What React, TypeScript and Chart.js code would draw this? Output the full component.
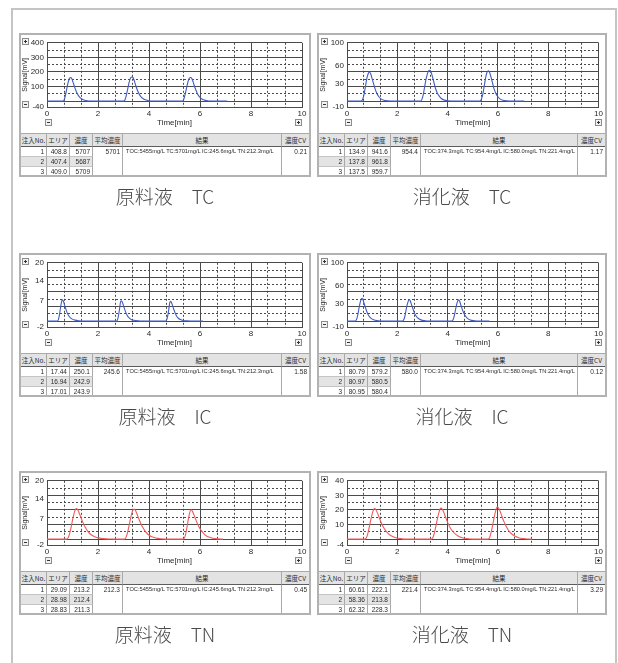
import React, { useEffect, useRef } from 'react';
import { Chart, registerables } from 'chart.js';

Chart.register(...registerables);

// ---------- DATA ----------
const xTickLabels = ['0', '2', '4', '6', '8', '10'];

// [time(min), signal(mV)]
const rawTcSignal: [number, number][] = [
  [0, 0], [0.63, 0], [0.68, 12], [0.73, 45], [0.78, 90], [0.84, 135], [0.89, 158], [0.93, 162], [0.97, 155],
  [1.02, 130], [1.08, 98], [1.14, 70], [1.2, 48], [1.27, 30], [1.35, 17], [1.45, 8], [1.58, 3], [1.75, 1], [1.95, 0],
  [3.01, 0], [3.06, 10], [3.11, 40], [3.17, 88], [3.23, 135], [3.28, 160], [3.34, 166], [3.38, 160], [3.43, 136],
  [3.49, 102], [3.55, 73], [3.61, 50], [3.68, 31], [3.76, 18], [3.86, 9], [3.99, 3], [4.15, 1], [4.35, 0],
  [5.31, 0], [5.36, 11], [5.41, 42], [5.47, 88], [5.53, 134], [5.58, 157], [5.64, 162], [5.68, 156], [5.73, 132],
  [5.79, 99], [5.85, 71], [5.91, 48], [5.98, 30], [6.06, 17], [6.16, 8], [6.29, 3], [6.45, 1], [6.65, 0], [7.07, 0],
];
const digTcSignal: [number, number][] = [
  [0, 0], [0.56, 0], [0.62, 3], [0.68, 12], [0.74, 27], [0.8, 41], [0.85, 48], [0.89, 50], [0.94, 47], [0.99, 40],
  [1.05, 31], [1.11, 22], [1.18, 14], [1.26, 8], [1.35, 4], [1.47, 1.5], [1.62, 0.5], [1.8, 0],
  [2.92, 0], [2.98, 3], [3.04, 13], [3.1, 28], [3.17, 43], [3.23, 51], [3.29, 53], [3.34, 50], [3.39, 43],
  [3.45, 33], [3.51, 23], [3.58, 15], [3.66, 9], [3.75, 4.5], [3.87, 1.8], [4.02, 0.6], [4.2, 0],
  [5.28, 0], [5.34, 3], [5.4, 12], [5.46, 27], [5.52, 42], [5.57, 50], [5.62, 52], [5.67, 49], [5.72, 42],
  [5.78, 32], [5.84, 22], [5.91, 14], [5.99, 8], [6.08, 4], [6.2, 1.5], [6.35, 0.5], [6.55, 0], [7.05, 0],
];
const rawIcSignal: [number, number][] = [
  [0, 0], [0.41, 0], [0.45, 0.6], [0.49, 2.3], [0.53, 4.6], [0.57, 6.6], [0.6, 7.3], [0.64, 6.9], [0.68, 5.8],
  [0.73, 4.4], [0.78, 3.1], [0.84, 2.0], [0.91, 1.2], [0.99, 0.7], [1.1, 0.35], [1.25, 0.15], [1.45, 0.05],
  [2.73, 0], [2.77, 0.6], [2.81, 2.2], [2.85, 4.5], [2.88, 6.4], [2.91, 7.0], [2.95, 6.6], [2.99, 5.6], [3.04, 4.2],
  [3.09, 3.0], [3.15, 1.9], [3.22, 1.1], [3.3, 0.6], [3.41, 0.3], [3.56, 0.1], [3.75, 0],
  [4.66, 0], [4.7, 0.6], [4.74, 2.1], [4.78, 4.3], [4.81, 6.2], [4.84, 6.8], [4.88, 6.4], [4.92, 5.4], [4.97, 4.1],
  [5.02, 2.9], [5.08, 1.8], [5.15, 1.0], [5.23, 0.55], [5.34, 0.25], [5.49, 0.1], [5.7, 0], [6.11, 0],
];
const digIcSignal: [number, number][] = [
  [0, 0], [0.33, 0], [0.38, 3], [0.43, 11], [0.48, 23], [0.53, 33], [0.57, 38], [0.6, 39], [0.64, 36], [0.69, 29],
  [0.75, 21], [0.81, 14], [0.88, 8.5], [0.96, 4.8], [1.06, 2.4], [1.18, 1], [1.35, 0.3], [1.55, 0],
  [2.21, 0], [2.26, 3], [2.31, 10], [2.36, 22], [2.41, 31], [2.45, 36], [2.48, 37], [2.52, 34], [2.57, 27.5],
  [2.63, 20], [2.69, 13], [2.76, 8], [2.84, 4.5], [2.94, 2.2], [3.06, 0.9], [3.22, 0.3], [3.42, 0],
  [4.17, 0], [4.22, 3], [4.27, 10], [4.32, 21], [4.37, 30.5], [4.41, 35.5], [4.44, 36.5], [4.48, 34], [4.53, 27],
  [4.59, 19.5], [4.65, 13], [4.72, 8], [4.8, 4.4], [4.9, 2.1], [5.02, 0.9], [5.18, 0.3], [5.38, 0], [5.66, 0],
];
const rawTnSignal: [number, number][] = [
  [0, 0], [0.77, 0], [0.83, 0.5], [0.89, 2.0], [0.95, 4.3], [1.01, 6.9], [1.07, 9.1], [1.12, 10.3], [1.16, 10.5],
  [1.21, 10.0], [1.27, 8.8], [1.34, 7.2], [1.42, 5.5], [1.51, 3.9], [1.61, 2.6], [1.72, 1.6], [1.85, 0.9],
  [2.0, 0.45], [2.2, 0.2], [2.45, 0.05],
  [3.03, 0], [3.09, 0.5], [3.15, 2.0], [3.21, 4.3], [3.27, 6.9], [3.33, 9.0], [3.38, 10.1], [3.42, 10.3],
  [3.47, 9.8], [3.53, 8.6], [3.6, 7.0], [3.68, 5.3], [3.77, 3.8], [3.87, 2.5], [3.98, 1.5], [4.11, 0.8],
  [4.26, 0.4], [4.45, 0.15], [4.7, 0],
  [5.35, 0], [5.4, 0.6], [5.45, 2.2], [5.5, 4.6], [5.55, 7.2], [5.6, 9.2], [5.65, 10.1], [5.7, 9.6], [5.76, 8.4],
  [5.83, 6.8], [5.91, 5.1], [6.0, 3.6], [6.1, 2.4], [6.21, 1.4], [6.34, 0.7], [6.5, 0.3], [6.68, 0.1], [6.9, 0],
];
const digTnSignal: [number, number][] = [
  [0, 0], [0.71, 0], [0.77, 1], [0.83, 4], [0.89, 8.6], [0.95, 13.5], [1.01, 17.8], [1.06, 20.3], [1.1, 21],
  [1.15, 20.2], [1.21, 18], [1.28, 14.8], [1.36, 11.3], [1.45, 8.1], [1.55, 5.5], [1.66, 3.5], [1.79, 2.0],
  [1.94, 1.0], [2.12, 0.4], [2.35, 0],
  [3.35, 0], [3.41, 1], [3.47, 4], [3.53, 8.6], [3.59, 13.6], [3.65, 18], [3.7, 20.6], [3.74, 21.3], [3.79, 20.5],
  [3.85, 18.3], [3.92, 15], [4.0, 11.5], [4.09, 8.2], [4.19, 5.6], [4.3, 3.6], [4.43, 2.0], [4.58, 1.0],
  [4.76, 0.4], [5.0, 0],
  [5.61, 0], [5.67, 1.2], [5.73, 4.6], [5.79, 9.6], [5.85, 15], [5.91, 19.4], [5.95, 21.5], [5.98, 22],
  [6.03, 21.2], [6.09, 19], [6.16, 15.6], [6.24, 12], [6.33, 8.6], [6.43, 5.8], [6.54, 3.7], [6.67, 2.1],
  [6.82, 1.0], [7.0, 0.4], [7.2, 0.1], [7.35, 0],
];

// y axis: [max, labelled values..., min]
const rawTcYLabels = [400, 300, 200, 100, -40];
const digTcYLabels = [100, 60, 30, -10];
const rawIcYLabels = [20, 14, 7, -2];
const digIcYLabels = [100, 60, 30, -10];
const rawTnYLabels = [20, 14, 7, -2];
const digTnYLabels = [40, 30, 20, 10, -4];

const tableHeaders = ['注入No.', 'エリア', '濃度', '平均濃度', '結果', '濃度CV'];

const rawTcRows = [['1', '408.8', '5707'], ['2', '407.4', '5687'], ['3', '409.0', '5709']];
const digTcRows = [['1', '134.9', '941.6'], ['2', '137.8', '961.8'], ['3', '137.5', '959.7']];
const rawIcRows = [['1', '17.44', '250.1'], ['2', '16.94', '242.9'], ['3', '17.01', '243.9']];
const digIcRows = [['1', '80.79', '579.2'], ['2', '80.97', '580.5'], ['3', '80.95', '580.4']];
const rawTnRows = [['1', '29.09', '213.2'], ['2', '28.98', '212.4'], ['3', '28.83', '211.3']];
const digTnRows = [['1', '60.61', '222.1'], ['2', '58.36', '213.8'], ['3', '62.32', '228.3']];

const rawAverages = { tc: '5701', ic: '245.6', tn: '212.3' };
const digAverages = { tc: '954.4', ic: '580.0', tn: '221.4' };
const rawCv = { tc: '0.21', ic: '1.58', tn: '0.45' };
const digCv = { tc: '1.17', ic: '0.12', tn: '3.29' };
const rawResult = 'TOC:5455mg/L TC:5701mg/L IC:245.6mg/L TN:212.3mg/L';
const digResult = 'TOC:374.3mg/L TC:954.4mg/L IC:580.0mg/L TN:221.4mg/L';

const captions = ['原料液\u3000TC', '消化液\u3000TC', '原料液\u3000IC', '消化液\u3000IC', '原料液\u3000TN', '消化液\u3000TN'];

// ---------- STYLE ----------
const BLUE = '#3f5cc4';
const RED = '#f05a5a';
const GRID = '#4a4a4a';
const TXT = '#2a2a2a';
const FONT = "'Liberation Sans', Arial, sans-serif";
const CJK = "'Noto Sans CJK JP', 'Noto Sans', sans-serif";

const near = (a: number, b: number) => Math.abs(a - b) < 1e-7;

function Plot(props: {
  points: [number, number][];
  color: string;
  yLabels: number[];
  width: number;
  height: number;
  yWidth: number;
  padRight: number;
}) {
  const ref = useRef<HTMLCanvasElement>(null);
  const { points, color, yLabels, width, height, yWidth, padRight } = props;
  useEffect(() => {
    const yMax = yLabels[0];
    const yMin = yLabels[yLabels.length - 1];
    const gridVals = Array.from({ length: 9 }, (_, i) => (yMax * i) / 8);
    const yVals = [...gridVals];
    for (const v of yLabels) if (!yVals.some((a) => near(a, v))) yVals.push(v);
    yVals.sort((a, b) => a - b);
    const gridIdx = (v: number) => gridVals.findIndex((g) => near(g, v));
    const xVals = Array.from({ length: 16 }, (_, i) => (i * 2) / 3);
    const isMajorX = (v: number) => near(v / 2, Math.round(v / 2));

    const chart = new Chart(ref.current!, {
      type: 'line',
      data: {
        datasets: [
          {
            data: points.map(([x, y]) => ({ x, y })),
            borderColor: color,
            borderWidth: 1.1,
            pointRadius: 0,
            cubicInterpolationMode: 'monotone',
            fill: false,
          },
        ],
      },
      options: {
        animation: false,
        responsive: false,
        events: [],
        layout: { padding: { top: 4, right: padRight, left: 0, bottom: 0 } },
        plugins: { legend: { display: false }, tooltip: { enabled: false } },
        scales: {
          x: {
            type: 'linear',
            min: 0,
            max: 10,
            afterBuildTicks: (s: any) => {
              s.ticks = xVals.map((v) => ({ value: v }));
            },
            afterFit: (s: any) => {
              s.height = 26;
            },
            ticks: {
              autoSkip: false,
              maxRotation: 0,
              padding: 2,
              color: TXT,
              font: { family: FONT, size: 8 },
              callback: (v: any) => (isMajorX(Number(v)) ? xTickLabels[Math.round(Number(v) / 2)] : ''),
            },
            grid: { drawTicks: false, color: GRID, lineWidth: 1 },
            border: {
              display: true,
              color: GRID,
              dash: (ctx: any) => (ctx.tick && !isMajorX(ctx.tick.value) ? [2, 2] : []),
            },
            title: {
              display: true,
              text: 'Time[min]',
              color: TXT,
              font: { family: FONT, size: 8 },
              padding: { top: 0, bottom: 5 },
            },
          },
          y: {
            type: 'linear',
            min: yMin,
            max: yMax,
            afterBuildTicks: (s: any) => {
              s.ticks = yVals.map((v) => ({ value: v }));
            },
            afterFit: (s: any) => {
              s.width = yWidth;
            },
            ticks: {
              autoSkip: false,
              padding: 3,
              color: TXT,
              font: { family: FONT, size: 8 },
              callback: (v: any) => {
                const l = yLabels.find((y) => near(y, Number(v)));
                return l === undefined ? '' : String(l);
              },
            },
            grid: {
              drawTicks: false,
              lineWidth: 1,
              color: (ctx: any) => {
                if (!ctx.tick) return GRID;
                const v = ctx.tick.value;
                return gridIdx(v) >= 0 || near(v, yMin) ? GRID : 'rgba(0,0,0,0)';
              },
            },
            border: {
              display: true,
              color: GRID,
              dash: (ctx: any) => {
                if (!ctx.tick) return [];
                const i = gridIdx(ctx.tick.value);
                return i >= 0 && i % 2 === 1 ? [2, 2] : [];
              },
            },
            title: {
              display: true,
              text: 'Signal[mV]',
              color: TXT,
              font: { family: FONT, size: 7 },
              padding: { top: 0, bottom: 0 },
            },
          },
        },
      },
    } as any);
    return () => chart.destroy();
  }, [points, color, yLabels, width, height, yWidth, padRight]);
  return (
    <canvas
      ref={ref}
      width={width}
      height={height}
      style={{ position: 'absolute', left: 0, top: 0, width, height }}
    />
  );
}

function ZoomIcon({ x, y, plus }: { x: number; y: number; plus: boolean }) {
  return (
    <div
      style={{
        position: 'absolute',
        left: x,
        top: y,
        width: 7,
        height: 7,
        boxSizing: 'border-box',
        border: '1px solid #8c8c8c',
        background: '#f2f2f2',
      }}
    >
      <div style={{ position: 'absolute', left: 1, top: 2, width: 3, height: 1, background: '#333' }} />
      {plus && <div style={{ position: 'absolute', left: 2, top: 1, width: 1, height: 3, background: '#333' }} />}
    </div>
  );
}

function ResultTable({
  width,
  rows,
  avg,
  result,
  cv,
}: {
  width: number;
  rows: string[][];
  avg: string;
  result: string;
  cv: string;
}) {
  const bounds = [0, 26, 49, 72, 102, width - 27, width];
  const headH = 14;
  const rowH = [10, 10, 8];
  const rowTop = [headH, headH + 10, headH + 20];
  const bodyH = 28;
  const cellBase: React.CSSProperties = {
    position: 'absolute',
    boxSizing: 'border-box',
    overflow: 'hidden',
    whiteSpace: 'nowrap',
    color: TXT,
  };
  return (
    <div style={{ position: 'absolute', left: 0, top: 98, width, height: headH + bodyH }}>
      {tableHeaders.map((h, i) => (
        <div
          key={h}
          style={{
            ...cellBase,
            left: bounds[i],
            top: 0,
            width: bounds[i + 1] - bounds[i],
            height: headH,
            background: '#e3e3e3',
            borderTop: '1px solid #a9a9a9',
            borderRight: i < 5 ? '1px solid #a9a9a9' : 'none',
            borderBottom: '1px solid #5c5c5c',
            fontFamily: CJK,
            fontSize: 6.5,
            lineHeight: '12px',
            textAlign: 'center',
          }}
        >
          {h}
        </div>
      ))}
      {rows.map((r, ri) =>
        r.map((c, ci) => (
          <div
            key={ri + '-' + ci}
            style={{
              ...cellBase,
              left: bounds[ci],
              top: rowTop[ri],
              width: bounds[ci + 1] - bounds[ci],
              height: rowH[ri],
              background: ri === 1 ? '#e4e4e4' : '#ffffff',
              borderRight: '1px solid #a9a9a9',
              borderBottom: ri < 2 ? '1px solid #c4c4c4' : 'none',
              fontFamily: FONT,
              fontSize: 6.5,
              lineHeight: '9px',
              textAlign: 'right',
              paddingRight: 2,
            }}
          >
            {c}
          </div>
        )),
      )}
      {[avg, result, cv].map((t, k) => {
        const ci = k + 3;
        return (
          <div
            key={'m' + k}
            style={{
              ...cellBase,
              left: bounds[ci],
              top: headH,
              width: bounds[ci + 1] - bounds[ci],
              height: bodyH,
              background: '#ffffff',
              borderRight: ci < 5 ? '1px solid #a9a9a9' : 'none',
              fontFamily: FONT,
              fontSize: k === 1 ? 6 : 6.5,
              lineHeight: '9px',
              textAlign: k === 1 ? 'left' : 'right',
              paddingRight: 2,
              paddingLeft: k === 1 ? 3 : 0,
            }}
          >
            {k === 1 ? (
              <span style={{ display: 'inline-block', transform: 'scaleX(0.95)', transformOrigin: 'left center' }}>
                {t}
              </span>
            ) : (
              t
            )}
          </div>
        );
      })}
    </div>
  );
}

function Panel(props: {
  x: number;
  y: number;
  w: number;
  right: boolean;
  points: [number, number][];
  color: string;
  yLabels: number[];
  rows: string[][];
  avg: string;
  result: string;
  cv: string;
  caption: string;
}) {
  const { x, y, w, right } = props;
  const innerW = w - 4;
  const yWidth = right ? 28 : 26;
  const padRight = right ? 3 : 7;
  const plotLeft = yWidth;
  const plotRight = innerW - padRight;
  return (
    <>
      <div
        style={{
          position: 'absolute',
          left: x,
          top: y,
          width: w,
          height: 144,
          boxSizing: 'border-box',
          border: '2px solid #b2b2b2',
          background: '#fff',
        }}
      >
        <div style={{ position: 'absolute', left: 0, top: 0, width: innerW, height: 140, overflow: 'hidden' }}>
          <Plot
            points={props.points}
            color={props.color}
            yLabels={props.yLabels}
            width={innerW}
            height={98}
            yWidth={yWidth}
            padRight={padRight}
          />
          <ZoomIcon x={right ? 2 : 1} y={3} plus />
          <ZoomIcon x={right ? 2 : 1} y={66} plus={false} />
          <ZoomIcon x={plotLeft - 2} y={84} plus={false} />
          <ZoomIcon x={plotRight - 7} y={84} plus />
          <ResultTable width={innerW} rows={props.rows} avg={props.avg} result={props.result} cv={props.cv} />
        </div>
      </div>
      <div
        style={{
          position: 'absolute',
          left: x,
          top: y + 150,
          width: w,
          height: 26,
          textAlign: 'center',
          fontFamily: CJK,
          fontWeight: 300,
          fontSize: 19,
          lineHeight: '26px',
          color: '#4a4a4a',
          whiteSpace: 'pre',
        }}
      >
        {props.caption}
      </div>
    </>
  );
}

export default function App() {
  const rowsY = [33, 253, 471];
  const colX = [19, 317];
  const colW = [292, 290];
  const sets = [
    { points: rawTcSignal, color: BLUE, yLabels: rawTcYLabels, rows: rawTcRows, avg: rawAverages.tc, result: rawResult, cv: rawCv.tc },
    { points: digTcSignal, color: BLUE, yLabels: digTcYLabels, rows: digTcRows, avg: digAverages.tc, result: digResult, cv: digCv.tc },
    { points: rawIcSignal, color: BLUE, yLabels: rawIcYLabels, rows: rawIcRows, avg: rawAverages.ic, result: rawResult, cv: rawCv.ic },
    { points: digIcSignal, color: BLUE, yLabels: digIcYLabels, rows: digIcRows, avg: digAverages.ic, result: digResult, cv: digCv.ic },
    { points: rawTnSignal, color: RED, yLabels: rawTnYLabels, rows: rawTnRows, avg: rawAverages.tn, result: rawResult, cv: rawCv.tn },
    { points: digTnSignal, color: RED, yLabels: digTnYLabels, rows: digTnRows, avg: digAverages.tn, result: digResult, cv: digCv.tn },
  ];
  return (
    <div style={{ position: 'absolute', left: 0, top: 0, width: 618, height: 663, overflow: 'hidden', background: '#fff' }}>
      <div
        style={{
          position: 'absolute',
          left: 11,
          top: 8,
          width: 606,
          height: 700,
          boxSizing: 'border-box',
          border: '2px solid #c4c4c4',
          borderBottom: 'none',
        }}
      />
      {sets.map((s, i) => {
        const col = i % 2;
        const row = Math.floor(i / 2);
        return (
          <Panel
            key={i}
            x={colX[col]}
            y={rowsY[row]}
            w={colW[col]}
            right={col === 1}
            points={s.points}
            color={s.color}
            yLabels={s.yLabels}
            rows={s.rows}
            avg={s.avg}
            result={s.result}
            cv={s.cv}
            caption={captions[i]}
          />
        );
      })}
    </div>
  );
}
